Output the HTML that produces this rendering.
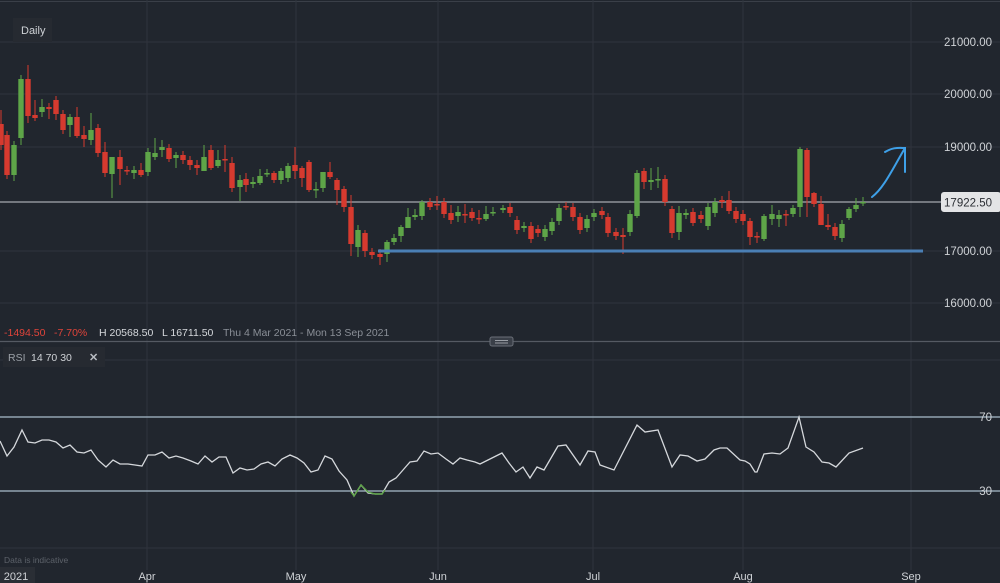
<!DOCTYPE html>
<html><head><meta charset="utf-8">
<style>
html,body{margin:0;padding:0;background:#21262e;}
body{width:1000px;height:583px;overflow:hidden;position:relative;font-family:"Liberation Sans",sans-serif;}
svg{position:absolute;left:0;top:0;}
</style></head><body>
<svg id="s" width="1000" height="583" viewBox="0 0 1000 583" xmlns="http://www.w3.org/2000/svg">
<rect width="1000" height="583" fill="#21262e"/>
<g stroke="#2f343d" stroke-width="1">
<line x1="0" y1="1.5" x2="1000" y2="1.5" stroke="#3a3f48"/>
<line x1="0" y1="42" x2="1000" y2="42"/>
<line x1="0" y1="94" x2="1000" y2="94"/>
<line x1="0" y1="147" x2="1000" y2="147"/>
<line x1="0" y1="251" x2="1000" y2="251"/>
<line x1="0" y1="303" x2="1000" y2="303"/>
<line x1="0" y1="360" x2="1000" y2="360"/>
<line x1="0" y1="548" x2="1000" y2="548"/>
<line x1="147" y1="0" x2="147" y2="570"/>
<line x1="296" y1="0" x2="296" y2="570"/>
<line x1="438" y1="0" x2="438" y2="570"/>
<line x1="593" y1="0" x2="593" y2="570"/>
<line x1="743" y1="0" x2="743" y2="570"/>
<line x1="911" y1="0" x2="911" y2="570"/>
</g>
<line x1="0" y1="202" x2="1000" y2="202" stroke="#c8cbd0" stroke-width="1"/>
<line x1="0" y1="341.5" x2="1000" y2="341.5" stroke="#555a63" stroke-width="1.2"/>
<rect x="490" y="337" width="23" height="9" rx="2" fill="#3a3f48" stroke="#6a6f78"/>
<line x1="495" y1="340.5" x2="508" y2="340.5" stroke="#9a9ea5"/>
<line x1="495" y1="343" x2="508" y2="343" stroke="#9a9ea5"/>
<line x1="0" y1="417" x2="1000" y2="417" stroke="#a9bccb" stroke-width="1.2"/>
<line x1="0" y1="491" x2="1000" y2="491" stroke="#a9bccb" stroke-width="1.2"/>
<g id="candles"></g>
<line x1="378" y1="251" x2="923" y2="251" stroke="#4a7fb5" stroke-width="3"/>
<path d="M872 197 C884 188 893 168 905 148 M885 152 C893 147 899 148 905 148 L905 172" fill="none" stroke="#3ea0e8" stroke-width="2" stroke-linecap="round"/>
<polyline id="rsi" fill="none" stroke="#d5d8dc" stroke-width="1.3"/>
<polyline points="351,492 354,496 361,485 368,492 375,494 382,494 385,490" fill="none" stroke="#5ea548" stroke-width="1.4"/>
<rect x="13" y="18" width="39" height="24" fill="#262a31"/>
<text x="21" y="34" fill="#cfd2d6" font-size="11">Daily</text>
<g fill="#cfd2d6" font-size="11.5" text-anchor="end">
<text x="992" y="46">21000.00</text>
<text x="992" y="98">20000.00</text>
<text x="992" y="151">19000.00</text>
<text x="992" y="255">17000.00</text>
<text x="992" y="307">16000.00</text>
<text x="992" y="421">70</text>
<text x="992" y="495">30</text>
</g>
<rect x="941" y="192" width="60" height="20" rx="3" fill="#e3e4e6"/>
<text x="992" y="206.5" fill="#2a2d33" font-size="11.5" text-anchor="end">17922.50</text>
<g font-size="10.5">
<text x="4" y="336" fill="#e0443a">-1494.50</text>
<text x="54" y="336" fill="#e0443a">-7.70%</text>
<text x="99" y="336" fill="#d5d8dc">H 20568.50</text>
<text x="162" y="336" fill="#d5d8dc">L 16711.50</text>
<text x="223" y="336" fill="#8a8f97">Thu 4 Mar 2021 - Mon 13 Sep 2021</text>
</g>
<rect x="3" y="347" width="102" height="20" fill="#262a31"/>
<text x="8" y="361" fill="#9ba0a7" font-size="10.5">RSI</text>
<text x="31" y="361" fill="#cfd2d6" font-size="10.5">14  70  30</text>
<text x="89" y="361" fill="#b8bcc2" font-size="11" font-weight="bold">✕</text>
<text x="4" y="563" fill="#5d626a" font-size="8.5">Data is indicative</text>
<rect x="0" y="567" width="35" height="16" fill="#2a2e35"/>
<g fill="#cfd2d6" font-size="11" text-anchor="middle">
<text x="16" y="580">2021</text>
<text x="147" y="580">Apr</text>
<text x="296" y="580">May</text>
<text x="438" y="580">Jun</text>
<text x="593" y="580">Jul</text>
<text x="743" y="580">Aug</text>
<text x="911" y="580">Sep</text>
</g>
</svg>
<script>
var G=1,R=0;
var d=[[1,124,145,R,110,150],[7,135,175,R],[14,145,175,G,141,181],[21,79,138,G,75,145],[28,79,116,R,65,123],[35,115,118,R,100,121],[42,107,112,G,99,117],[49,107,109,R,103,119],[56,100,114,R,96,120],[63,114,130,R],[70,117,125,G,114,137],[77,117,136,R,107,138],[84,135,139,R,126,147],[91,130,140,G,113,145],[98,128,153,R],[105,152,173,R,142,177],[112,157,174,G,157,198],[120,157,169,R,150,185],[127,170,171,R],[134,170,173,G,166,179],[141,170,175,R,163,177],[148,152,172,G],[155,153,157,G,138,160],[162,147,150,G,140,157],[169,148,159,R,144,162],[176,155,158,G,152,168],[183,155,160,R],[190,160,165,R,156,170],[197,165,168,R,160,175],[204,157,171,G,145,171],[211,150,168,R,145,170],[218,160,166,G,150,168],[225,159,160,R,145,172],[232,163,188,R,157,192],[240,180,187,G,175,201],[246,179,185,R,173,192],[253,182,184,G,177,188],[260,176,183,G,169,185],[267,173,174,G,169,177],[274,173,180,R,171,183],[281,171,180,G,168,184],[288,166,178,G,163,182],[295,165,171,R,147,179],[302,168,178,R,166,187],[309,162,190,R,160,192],[316,189,190,G,182,198],[323,172,188,G,172,192],[330,172,177,R,162,179],[337,180,190,R,178,205],[344,189,207,R,186,212],[351,207,244,R,195,256],[358,230,247,G,225,257],[365,233,251,R,230,257],[372,252,255,R],[380,254,257,R,249,265],[387,242,254,G,240,262],[394,238,242,G,234,245],[401,227,236,G,225,242],[408,217,228,G,208,228],[415,215,217,G,209,220],[422,202,216,G,200,220],[430,202,207,R,198,210],[437,204,205,R,196,210],[444,202,214,R],[451,213,220,R,205,224],[458,212,216,G,206,222],[465,214,215,R,204,223],[472,212,218,R,208,221],[479,218,219,R,210,224],[486,214,219,G,206,221],[493,212,213,G,207,216],
[503,208,210,G,205,213],[510,207,213,R],[517,220,230,R],[524,226,228,G],[531,226,239,R],[538,229,233,R],[545,229,237,G],[552,222,231,G],[559,208,221,G],[566,206,207,R,202,210],[573,207,217,R],[580,217,230,R],[587,219,228,G],[594,213,217,G],[602,211,215,R],[608,217,233,R],[616,232,236,R],[623,235,237,R,228,254],[630,214,232,G],[637,173,216,G,170,218],[644,171,182,R,168,189],[651,180,182,G,168,190],[658,179,180,G,167,188],[665,179,202,R],[672,209,233,R,206,238],[679,213,232,G,206,240],[686,213,215,G],[693,212,223,R,208,226],[701,215,219,R],[708,207,226,G],[715,202,213,G],[722,200,202,R,196,208],[729,200,211,R,191,214],[736,211,219,R],[743,214,221,R],[750,221,237,R,218,245],[757,236,237,R,232,243],[764,216,239,G,214,241],[772,214,219,G,205,225],[779,215,219,G,210,227],[786,214,215,R,210,226],[793,208,214,G,205,217],[800,149,207,G,147,217],[807,150,197,R,148,217],[814,193,204,R,192,207],[821,204,225,R,196,225],[828,225,227,R,214,230],[835,227,236,R,223,240],[842,224,238,G],[849,209,218,G,207,220],[856,205,209,G,198,212],[863,202,203,G,197,206]];
var s='';
d.forEach(function(c){var col=c[3]?'#5ea548':'#d63a2f';var wt=c[4]||c[1]-4,wb=c[5]||c[2]+4;var h=Math.max(1.5,c[2]-c[1]);
s+='<line x1="'+c[0]+'" y1="'+wt+'" x2="'+c[0]+'" y2="'+wb+'" stroke="'+col+'" stroke-width="1"/>';
s+='<rect x="'+(c[0]-2.7)+'" y="'+c[1]+'" width="5.4" height="'+h+'" fill="'+col+'"/>';});
document.getElementById('candles').innerHTML=s;
var r="0,441 7,456 14,447 22,430 28,442 35,443 42,440 49,440 56,442 63,448 70,445 77,452 84,453 91,450 98,460 106,467 113,460 120,464 128,464 135,465 142,466 148,455 155,455 162,452 169,458 176,456 183,458 191,461 198,464 205,456 212,462 219,457 226,457 233,473 240,468 247,470 254,469 261,464 268,462 275,466 282,459 290,455 297,458 304,463 311,472 318,470 325,456 332,459 339,471 347,480 354,496 361,485 368,493 375,494 382,494 389,482 396,478 403,470 410,462 417,461 424,451 431,454 438,453 446,459 453,464 460,458 467,460 475,462 480,464 502,453 509,463 516,472 523,467 530,478 537,467 544,470 558,446 566,445 580,465 588,451 595,452 600,465 614,470 637,425 645,432 658,430 672,467 680,455 688,456 697,461 705,459 714,450 720,448 727,448 740,460 745,461 750,464 755,472 757,472 764,454 772,453 780,454 788,448 799,417 806,447 814,452 822,462 829,463 836,467 849,453 863,448";
document.getElementById('rsi').setAttribute('points',r);
</script>
</body></html>
